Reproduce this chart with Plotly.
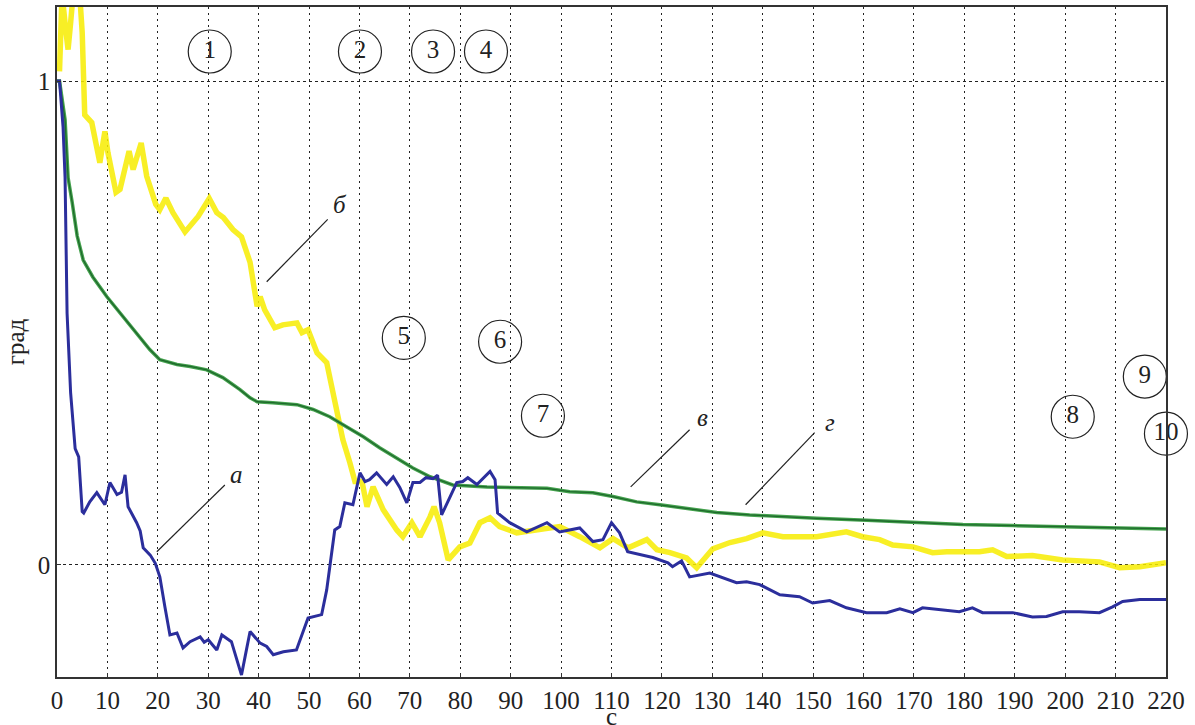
import plotly.graph_objects as go

# ---- data ----
blue_x = [0, 0.5, 1.2, 1.6, 2.0, 2.7, 3.6, 4.3, 5.0, 5.3, 6.5, 7.9, 9.5, 10.5, 11.9, 12.8, 13.5, 14.1, 15.8,
          16.5, 17.1, 18.5, 19.5, 20.4, 21.4, 22.4, 23.8, 25.0, 26.4, 28.4, 29.2, 30.0, 31.7, 32.7, 34.6,
          35.5, 36.6, 37.5, 38.3, 40.3, 41.6, 42.9, 44.9, 47.5, 49.8, 52.5, 53.5, 55.1, 56.1, 57.1, 58.7,
          60.1, 61.1, 62.0, 63.4, 65.4, 66.7, 68.0, 69.4, 70.6, 72.0, 73.2, 74.6, 75.5, 76.3, 79.3, 80.5,
          81.5, 83.3, 85.9, 86.9, 87.4, 89.8, 93.2, 97.2, 99.7, 103.7, 106.3, 108.3, 110.0, 111.6, 113.2,
          115.6, 118.2, 121.2, 122.1, 123.9, 125.5, 129.5, 134.8, 136.8, 139.4, 143.4, 147.3, 149.9, 153.3,
          156.6, 160.6, 164.6, 167.2, 169.8, 171.7, 179.0, 181.6, 183.6, 189.6, 193.5, 196.3, 199.5, 202.8,
          206.8, 209.4, 211.4, 214.8, 220]
blue_y = [1.0, 1.0, 0.905, 0.80, 0.52, 0.356, 0.24, 0.223, 0.11, 0.107, 0.13, 0.149, 0.124, 0.17, 0.145, 0.15,
          0.186, 0.12, 0.087, 0.07, 0.035, 0.02, 0.003, -0.025, -0.087, -0.145, -0.141, -0.172, -0.159, -0.149,
          -0.16, -0.155, -0.176, -0.145, -0.159, -0.19, -0.228, -0.18, -0.138, -0.162, -0.169, -0.186, -0.18,
          -0.176, -0.11, -0.103, -0.052, 0.072, 0.079, 0.128, 0.124, 0.19, 0.172, 0.176, 0.19, 0.166, 0.182,
          0.16, 0.128, 0.17, 0.17, 0.18, 0.178, 0.185, 0.103, 0.17, 0.172, 0.18, 0.166, 0.193, 0.176, 0.107,
          0.087, 0.068, 0.087, 0.068, 0.076, 0.048, 0.052, 0.087, 0.066, 0.027, 0.021, 0.015, 0.004, -0.004,
          0.008, -0.025, -0.017, -0.037, -0.035, -0.041, -0.062, -0.066, -0.079, -0.074, -0.089, -0.099,
          -0.099, -0.091, -0.099, -0.089, -0.097, -0.089, -0.099, -0.099, -0.108, -0.107, -0.097, -0.097,
          -0.099, -0.087, -0.076, -0.072, -0.072]

green_x = [0, 0.5, 1.6, 2.2, 3.0, 4.0, 5.2, 7.1, 9.9, 12.5, 15.1, 18.4, 20.4, 23.8, 26.4, 29.7, 32.9, 36.3,
           38.3, 39.7, 42.8, 47.6, 50.8, 54.1, 57.5, 60.7, 64.0, 67.4, 70.6, 74.0, 76.5, 78.5, 85.3, 91.8,
           97.2, 101.7, 106.3, 110.3, 115.0, 119.6, 124.1, 130.9, 137.4, 144.0, 150.7, 160.6, 170.5, 179.7,
           189.6, 199.5, 209.4, 220]
green_y = [1.0, 1.0, 0.92, 0.80, 0.75, 0.68, 0.63, 0.595, 0.554, 0.521, 0.486, 0.445, 0.424, 0.414, 0.41,
           0.403, 0.387, 0.362, 0.345, 0.337, 0.335, 0.331, 0.321, 0.306, 0.285, 0.265, 0.242, 0.221, 0.20,
           0.182, 0.172, 0.165, 0.161, 0.159, 0.158, 0.151, 0.149, 0.141, 0.13, 0.124, 0.118, 0.108, 0.103,
           0.099, 0.096, 0.092, 0.087, 0.083, 0.081, 0.079, 0.077, 0.074]

yellow_x = [0.5, 1.0, 1.8, 2.2, 2.7, 3.2, 4.5, 5.0, 5.5, 6.9, 8.5, 9.5, 10.1, 11.7, 12.5, 14.3, 15.1, 16.7,
            17.8, 19.6, 20.4, 21.6, 23.0, 25.4, 28.0, 30.2, 31.7, 33.0, 34.9, 36.6, 38.3, 39.7, 40.3, 41.2,
            43.2, 44.8, 47.6, 48.6, 49.8, 51.6, 53.5, 54.1, 55.5, 56.7, 58.1, 59.1, 60.5, 61.5, 62.7, 64.7,
            67.4, 68.6, 70.4, 72.0, 74.0, 74.8, 75.9, 77.6, 79.9, 81.9, 83.9, 85.9, 87.8, 91.2, 95.0, 99.7,
            103.7, 107.7, 110.3, 113.3, 117.0, 119.0, 121.6, 124.9, 126.9, 128.9, 130.1, 133.5, 136.8, 140.0,
            144.0, 150.7, 156.6, 159.8, 163.2, 165.8, 169.8, 173.7, 176.5, 183.0, 185.6, 188.4, 193.5, 199.5,
            206.8, 210.8, 214.8, 220]
yellow_y = [1.02, 1.18, 1.10, 1.065, 1.12, 1.18, 1.18, 1.10, 0.93, 0.914, 0.831, 0.896, 0.852, 0.77, 0.776,
            0.855, 0.817, 0.872, 0.803, 0.745, 0.734, 0.758, 0.728, 0.688, 0.72, 0.757, 0.728, 0.718, 0.693,
            0.678, 0.625, 0.534, 0.554, 0.527, 0.49, 0.496, 0.50, 0.48, 0.486, 0.438, 0.418, 0.389, 0.314,
            0.259, 0.211, 0.172, 0.172, 0.12, 0.161, 0.114, 0.072, 0.058, 0.087, 0.058, 0.099, 0.12, 0.087,
            0.01, 0.037, 0.045, 0.087, 0.097, 0.079, 0.066, 0.072, 0.079, 0.058, 0.035, 0.054, 0.035, 0.052,
            0.031, 0.025, 0.014, -0.006, 0.017, 0.033, 0.046, 0.054, 0.066, 0.058, 0.058, 0.068, 0.058, 0.052,
            0.041, 0.037, 0.025, 0.027, 0.027, 0.031, 0.017, 0.019, 0.01, 0.006, -0.006, -0.004, 0.004]

x_ticks = list(range(0, 221, 10))
y_ticks = [0, 1]

circle_labels = ["1", "2", "3", "4", "5", "6", "7", "8", "9", "10"]
circle_x = [30.3, 60.1, 74.6, 85.1, 68.8, 87.9, 96.4, 201.5, 215.8, 219.99]
circle_y = [1.061, 1.061, 1.061, 1.061, 0.469, 0.461, 0.308, 0.306, 0.389, 0.271]

curve_labels = ["а", "б", "в", "г"]
label_x = [35.7, 56.1, 128.1, 153.3]
label_y = [0.186, 0.745, 0.304, 0.294]
leader_x0 = [19.8, 41.6, 113.8, 136.6]
leader_y0 = [0.027, 0.585, 0.161, 0.124]
leader_x1 = [33.3, 53.7, 125.5, 150.3]
leader_y1 = [0.165, 0.714, 0.279, 0.273]

SERIF = "Liberation Serif, Times New Roman, Times, serif"
FS = 25

fig = go.Figure()
fig.add_trace(go.Scatter(x=yellow_x, y=yellow_y, mode="lines",
                         line=dict(color="rgba(247,236,0,0.85)", width=5.5), showlegend=False))
fig.add_trace(go.Scatter(x=green_x, y=green_y, mode="lines",
                         line=dict(color="#45a24e", width=3.5), showlegend=False))
fig.add_trace(go.Scatter(x=green_x, y=green_y, mode="lines",
                         line=dict(color="#1e6a2c", width=1.3), showlegend=False))
fig.add_trace(go.Scatter(x=blue_x, y=blue_y, mode="lines",
                         line=dict(color="#2b2e9c", width=3), showlegend=False))

fig.add_trace(go.Scatter(x=circle_x, y=circle_y, mode="markers+text", text=circle_labels,
                         textposition="middle center",
                         textfont=dict(family=SERIF, size=FS, color="#222"),
                         marker=dict(symbol="circle-open", size=43, color="#222", line=dict(width=1.2)),
                         cliponaxis=False, showlegend=False))

for i, t in enumerate(curve_labels):
    fig.add_shape(type="line", xref="x", yref="y", x0=leader_x0[i], y0=leader_y0[i],
                  x1=leader_x1[i], y1=leader_y1[i], line=dict(color="#222", width=1.2))
    fig.add_annotation(x=label_x[i], y=label_y[i], text="<i>" + t + "</i>", showarrow=False,
                       font=dict(family=SERIF, size=FS, color="#222"))

# x-axis title, placed under the tick labels
fig.add_annotation(xref="paper", yref="paper", x=0.5, y=-0.036, yanchor="top", text="с",
                   showarrow=False, font=dict(family=SERIF, size=FS, color="#222"))

fig.update_layout(
    width=1195, height=725,
    margin=dict(l=57, r=29, t=7, b=48),
    paper_bgcolor="white", plot_bgcolor="white",
    font=dict(family=SERIF, size=FS, color="#222"),
    xaxis=dict(range=[0, 220], tickvals=x_ticks, ticktext=[str(v) for v in x_ticks],
               tickfont=dict(family=SERIF, size=FS, color="#222"),
               showgrid=True, gridcolor="#222", griddash="2px,4px", gridwidth=1,
               showline=True, linecolor="#333", linewidth=1.5, mirror=True,
               ticks="inside", ticklen=4, tickcolor="#333", zeroline=False, automargin=False),
    yaxis=dict(range=[-0.232, 1.153], tickvals=y_ticks, ticktext=["0", "1"],
               tickfont=dict(family=SERIF, size=FS, color="#222"),
               showgrid=True, gridcolor="#222", griddash="3px,3px", gridwidth=1,
               showline=True, linecolor="#333", linewidth=1.5, mirror=True,
               ticks="inside", ticklen=4, tickcolor="#333", zeroline=False, automargin=False,
               title=dict(text="град", standoff=6, font=dict(family=SERIF, size=FS))),
)

fig.write_html("out.html", config={"displayModeBar": False})

# remove the browser's default page margin so the figure sits at the window's corner
with open("out.html", "r", encoding="utf-8") as f:
    html = f.read()
html = html.replace("<head>", "<head><style>html,body{margin:0;padding:0;overflow:hidden;}</style>", 1)
with open("out.html", "w", encoding="utf-8") as f:
    f.write(html)
